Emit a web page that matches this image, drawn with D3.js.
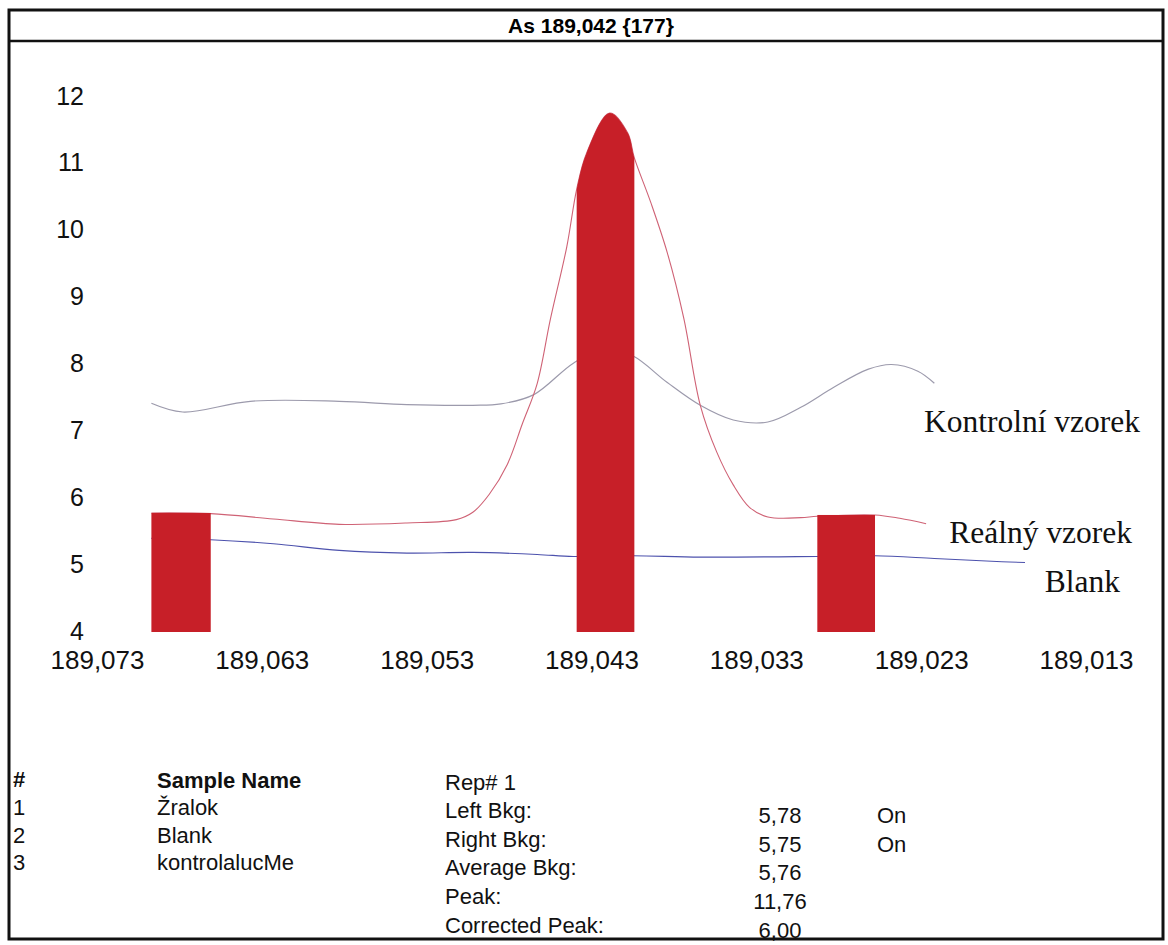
<!DOCTYPE html>
<html>
<head>
<meta charset="utf-8">
<script src="https://cdn.jsdelivr.net/npm/d3@7"></script>
<style>
  html, body { margin: 0; padding: 0; background: #fff; }
  svg { display: block; }
</style>
</head>
<body>
<svg id="chart" width="1168" height="945"></svg>
<script>
// ---- data ---------------------------------------------------------------
const chartTitle = "As 189,042 {177}";
const yTicks = [4, 5, 6, 7, 8, 9, 10, 11, 12];
const xTicks = [189.073, 189.063, 189.053, 189.043, 189.033, 189.023, 189.013];

// Reálný vzorek (sample scan): wavelength [nm] and intensity
const realWl  = [189.0697, 189.0661, 189.0623, 189.0583, 189.0542, 189.0512, 189.0502, 189.0492,
                 189.0481, 189.0472, 189.0463, 189.0455, 189.0445, 189.0439, 189.0433, 189.0419,
                 189.0408, 189.0404, 189.0394, 189.0384, 189.0374, 189.0364, 189.0354,
                 189.0344, 189.0334, 189.0323, 189.0303, 189.0293, 189.0258, 189.0243, 189.0227];
const realVal = [5.78, 5.77, 5.69, 5.61, 5.63, 5.68, 5.79, 6.06,
                 6.51, 7.11, 7.71, 8.67, 9.76, 10.62, 11.16, 11.76,
                 11.46, 11.09, 10.42, 9.67, 8.69, 7.39, 6.69,
                 6.20, 5.86, 5.72, 5.71, 5.73, 5.75, 5.70, 5.62];

// Kontrolní vzorek (control sample scan)
const ctrlWl  = [189.0697, 189.0678, 189.0637, 189.0583, 189.0542, 189.0502, 189.0485, 189.0465,
                 189.0441, 189.0422, 189.0405, 189.0384, 189.0364, 189.0344, 189.0323, 189.0303,
                 189.0283, 189.0262, 189.0248, 189.0232, 189.0222];
const ctrlVal = [7.42, 7.29, 7.45, 7.45, 7.40, 7.39, 7.41, 7.55,
                 8.02, 8.24, 8.13, 7.73, 7.39, 7.17, 7.14, 7.36,
                 7.66, 7.93, 8.00, 7.90, 7.72];

// Blank scan
const blankWl  = [189.0697, 189.0661, 189.0623, 189.0583, 189.0542, 189.0502, 189.0463, 189.0441,
                  189.0405, 189.0364, 189.0293, 189.0258, 189.0222, 189.0181, 189.0167];
const blankVal = [5.40, 5.38, 5.32, 5.22, 5.18, 5.19, 5.16, 5.13,
                  5.14, 5.12, 5.13, 5.14, 5.10, 5.05, 5.04];

// Background windows (left, right) and peak integration window
const bkgFrom   = [189.0697, 189.0293];
const bkgTo     = [189.0661, 189.0258];
const bkgValues = [5.78, 5.75];
const peakFrom  = 189.0439;
const peakTo    = 189.0404;

// Series labels at the right-hand side
const seriesNames  = ["Kontrolní vzorek", "Reálný vzorek", "Blank"];

// Sample table
const tableHeader  = ["#", "Sample Name"];
const sampleIds    = ["1", "2", "3"];
const sampleNames  = ["Žralok", "Blank", "kontrolalucMe"];
const repTitle     = "Rep# 1";
const repLabels    = ["Left Bkg:", "Right Bkg:", "Average Bkg:", "Peak:", "Corrected Peak:"];
const repValues    = [5.78, 5.75, 5.76, 11.76, 6.00];
const repFlags     = ["On", "On", "", "", ""];

// ---- drawing ------------------------------------------------------------
const svg = d3.select("#chart");
const sans = "'Liberation Sans', Arial, sans-serif";
const serif = "'Liberation Serif', 'Times New Roman', serif";

const loc = d3.formatLocale({ decimal: ",", thousands: " ", grouping: [3], currency: ["", ""] });
const fmt3 = loc.format(".3f");
const fmt2 = loc.format(".2f");

const x = d3.scaleLinear().domain([189.073, 189.013]).range([97, 1086]);
const y = d3.scaleLinear().domain([4, 12]).range([632, 97]);

const colors = {
  bar: "#c71f28",
  real: "#cf6275",
  ctrl: "#9c9aac",
  blank: "#4d52ad"
};

// frame and title bar
svg.append("rect")
  .attr("x", 9).attr("y", 10).attr("width", 1154).attr("height", 929)
  .attr("fill", "none").attr("stroke", "#111").attr("stroke-width", 3);
svg.append("line")
  .attr("x1", 9).attr("x2", 1163).attr("y1", 41).attr("y2", 41)
  .attr("stroke", "#111").attr("stroke-width", 2.5);
svg.append("text")
  .attr("x", 591).attr("y", 33)
  .attr("text-anchor", "middle")
  .attr("font-family", sans).attr("font-weight", "bold").attr("font-size", 21)
  .text(chartTitle);

// y axis labels (no axis line)
const yAxis = d3.axisLeft(y).tickValues(yTicks).tickSize(0).tickPadding(0).tickFormat(d3.format("d"));
const gy = svg.append("g").attr("transform", "translate(84,-2)").call(yAxis);
gy.select(".domain").remove();
gy.selectAll("text")
  .attr("font-family", sans).attr("font-size", 25).attr("fill", "#111")
  .attr("dy", "0.36em");

// x axis labels
const xAxis = d3.axisBottom(x).tickValues(xTicks).tickSize(0).tickPadding(0).tickFormat(fmt3);
const gx = svg.append("g").attr("transform", "translate(0,660)").call(xAxis);
gx.select(".domain").remove();
gx.selectAll("text")
  .attr("font-family", sans).attr("font-size", 26).attr("fill", "#111")
  .attr("dy", "0.36em");

// scan lines
const curve = d3.curveCatmullRom.alpha(0.5);
const line = d3.line().x(d => x(d[0])).y(d => y(d[1])).curve(curve);
const zip = (a, b) => a.map((v, i) => [v, b[i]]);

const realPts  = zip(realWl, realVal);
const ctrlPts  = zip(ctrlWl, ctrlVal);
const blankPts = zip(blankWl, blankVal);

svg.append("path").attr("d", line(ctrlPts))
  .attr("fill", "none").attr("stroke", colors.ctrl).attr("stroke-width", 1.2);
svg.append("path").attr("d", line(blankPts))
  .attr("fill", "none").attr("stroke", colors.blank).attr("stroke-width", 1.1);
svg.append("path").attr("d", line(realPts))
  .attr("fill", "none").attr("stroke", colors.real).attr("stroke-width", 1.1);

// background windows
svg.selectAll("rect.bkg")
  .data(bkgValues)
  .join("rect")
  .attr("class", "bkg")
  .attr("x", (d, i) => x(bkgFrom[i]))
  .attr("width", (d, i) => x(bkgTo[i]) - x(bkgFrom[i]))
  .attr("y", d => y(d))
  .attr("height", d => y(4) - y(d))
  .attr("fill", colors.bar);

// peak window: area under the sample scan, clipped to the window
svg.append("clipPath").attr("id", "peakClip")
  .append("rect")
  .attr("x", x(peakFrom)).attr("width", x(peakTo) - x(peakFrom))
  .attr("y", 0).attr("height", 945);
const area = d3.area().x(d => x(d[0])).y0(y(4)).y1(d => y(d[1])).curve(curve);
svg.append("path").attr("d", area(realPts))
  .attr("clip-path", "url(#peakClip)")
  .attr("fill", colors.bar);

// series labels
const labelPos = [[1140, 432], [1132, 543], [1120, 592]];
svg.selectAll("text.series")
  .data(seriesNames)
  .join("text")
  .attr("class", "series")
  .attr("x", (d, i) => labelPos[i][0]).attr("y", (d, i) => labelPos[i][1])
  .attr("text-anchor", "end")
  .attr("font-family", serif).attr("font-size", 31.5).attr("fill", "#111")
  .text(d => d);

// sample table
const tbl = svg.append("g").attr("font-family", sans).attr("font-size", 22).attr("fill", "#111");
tbl.append("text").attr("x", 13).attr("y", 787).attr("font-weight", "bold").text(tableHeader[0]);
tbl.append("text").attr("x", 157).attr("y", 788).attr("font-weight", "bold").text(tableHeader[1]);
sampleIds.forEach((id, i) => {
  tbl.append("text").attr("x", 13).attr("y", 815 + i * 27.5).text(id);
  tbl.append("text").attr("x", 157).attr("y", 815 + i * 27.5).text(sampleNames[i]);
});
tbl.append("text").attr("x", 445).attr("y", 790).text(repTitle);
repLabels.forEach((lab, i) => {
  const base = 818 + i * 28.7;
  tbl.append("text").attr("x", 445).attr("y", base).text(lab);
  tbl.append("text").attr("x", 780).attr("y", base + 5).attr("text-anchor", "middle").text(fmt2(repValues[i]));
  if (repFlags[i]) tbl.append("text").attr("x", 877).attr("y", base + 5).text(repFlags[i]);
});
</script>
</body>
</html>
